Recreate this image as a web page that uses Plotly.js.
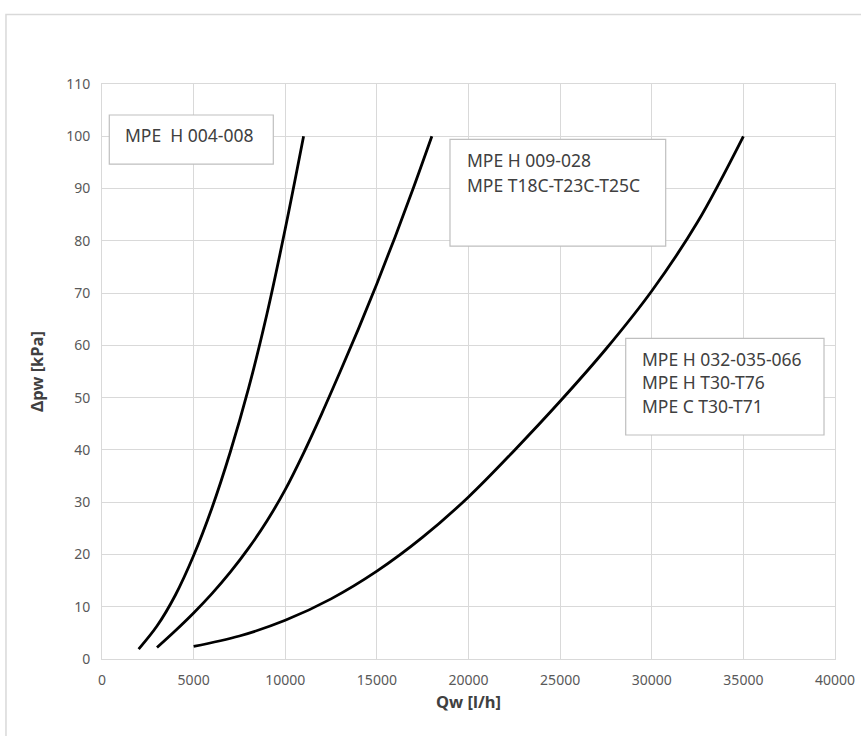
<!DOCTYPE html>
<html>
<head>
<meta charset="utf-8">
<script src="https://cdn.plot.ly/plotly-3.0.1.min.js"></script>
<style>
  html, body { margin: 0; padding: 0; background: #ffffff; }
  #chart { width: 861px; height: 736px; }
</style>
</head>
<body>
<div id="chart"></div>
<script>
// ---- Data ----
const seriesNames = ["MPE H 004-008", "MPE H 009-028 / MPE T18C-T23C-T25C", "MPE H 032-035-066 / MPE H T30-T76 / MPE C T30-T71"];

const qw1 = [2000, 3000, 4000, 5000, 6000, 7000, 8000, 9000, 10000, 11000];
const dp1 = [1.9, 6.3, 12.2, 19.8, 28.9, 39.6, 51.8, 66.0, 82.3, 100];

const qw2 = [3000, 4000, 5000, 6000, 7000, 8000, 9000, 10000, 11000, 12000, 13000, 14000, 15000, 16000, 17000, 18000];
const dp2 = [2.2, 5.4, 8.8, 12.5, 16.6, 21.2, 26.4, 32.4, 39.4, 47.0, 55.0, 63.2, 71.8, 80.8, 90.2, 100];

const qw3 = [5000, 7500, 10000, 12500, 15000, 17500, 20000, 22500, 25000, 27500, 30000, 32500, 35000];
const dp3 = [2.4, 4.4, 7.4, 11.5, 16.8, 23.3, 31.0, 39.9, 49.3, 59.3, 70.4, 83.6, 100];

const xTickVals = [0, 5000, 10000, 15000, 20000, 25000, 30000, 35000, 40000];
const yTickVals = [0, 10, 20, 30, 40, 50, 60, 70, 80, 90, 100, 110];

const label1 = ["MPE&nbsp;&nbsp;H 004-008"];
const label2 = ["MPE H 009-028", "MPE T18C-T23C-T25C"];
const label3 = ["MPE H 032-035-066", "MPE H T30-T76", "MPE C T30-T71"];

const xTitle = "Qw [l/h]";
const yTitle = "Δpw [kPa]";

// ---- Styling ----
const FONT = "Noto Sans, Open Sans, DejaVu Sans, sans-serif";
const GRID = "#d9d9d9";
const lineStyle = { color: "#000000", width: 2.8, shape: "spline", smoothing: 1 };

const traces = [
  { x: qw1, y: dp1, name: seriesNames[0], mode: "lines", line: lineStyle, hoverinfo: "x+y" },
  { x: qw2, y: dp2, name: seriesNames[1], mode: "lines", line: lineStyle, hoverinfo: "x+y" },
  { x: qw3, y: dp3, name: seriesNames[2], mode: "lines", line: lineStyle, hoverinfo: "x+y" }
];

function textLine(txt, x, y) {
  return {
    xref: "x", yref: "y", x: x, y: y, text: txt, showarrow: false,
    xanchor: "left", yanchor: "middle", align: "left",
    font: { family: FONT, size: 17.5, color: "#404040" }
  };
}

const annotations = [];
label1.forEach((t, i) => annotations.push(textLine(t, 1160, 100.2 - i * 4.9)));
label2.forEach((t, i) => annotations.push(textLine(t, 19800, 95.5 - i * 4.9)));
label3.forEach((t, i) => annotations.push(textLine(t, 29350, 57.45 - i * 4.5)));

function box(x0, x1, y0, y1) {
  return {
    type: "rect", xref: "x", yref: "y", x0: x0, x1: x1, y0: y0, y1: y1,
    line: { color: "#bfbfbf", width: 1.2 }, fillcolor: "#ffffff", layer: "above"
  };
}

const shapes = [
  // outer chart frame
  { type: "rect", xref: "paper", yref: "paper", x0: -0.131, x1: 1.2, y0: -0.3, y1: 1.121,
    line: { color: "#d9d9d9", width: 1.5 }, fillcolor: "rgba(0,0,0,0)", layer: "below" },
  box(398, 9348, 94.69, 104.07),
  box(18990, 30761, 79.0, 99.42),
  box(28579, 39400, 42.85, 61.35)
];

const layout = {
  width: 861, height: 736,
  margin: { l: 102, r: 26, t: 84, b: 77 },
  paper_bgcolor: "#ffffff", plot_bgcolor: "#ffffff",
  showlegend: false,
  font: { family: FONT, color: "#595959", size: 14 },
  xaxis: {
    range: [0, 40000], tickvals: xTickVals, ticktext: xTickVals.map(String),
    showgrid: true, gridcolor: GRID, gridwidth: 1,
    showline: true, linecolor: GRID, linewidth: 1, mirror: true,
    zeroline: false, ticks: "", ticklabelstandoff: 8,
    tickfont: { family: FONT, size: 14, color: "#595959" },
    title: { text: "<b>" + xTitle + "</b>", standoff: 8, font: { family: FONT, size: 16.5, color: "#404040" } },
    fixedrange: true
  },
  yaxis: {
    range: [0, 110], tickvals: yTickVals, ticktext: yTickVals.map(String),
    showgrid: true, gridcolor: GRID, gridwidth: 1,
    showline: true, linecolor: GRID, linewidth: 1, mirror: true,
    zeroline: false, ticks: "", ticklabelstandoff: 8,
    tickfont: { family: FONT, size: 14, color: "#595959" },
    title: { text: "<b>" + yTitle + "</b>", standoff: 18, font: { family: FONT, size: 16.5, color: "#404040" } },
    fixedrange: true
  },
  shapes: shapes,
  annotations: annotations
};

Plotly.newPlot("chart", traces, layout, { displayModeBar: false, staticPlot: true });
</script>
</body>
</html>
